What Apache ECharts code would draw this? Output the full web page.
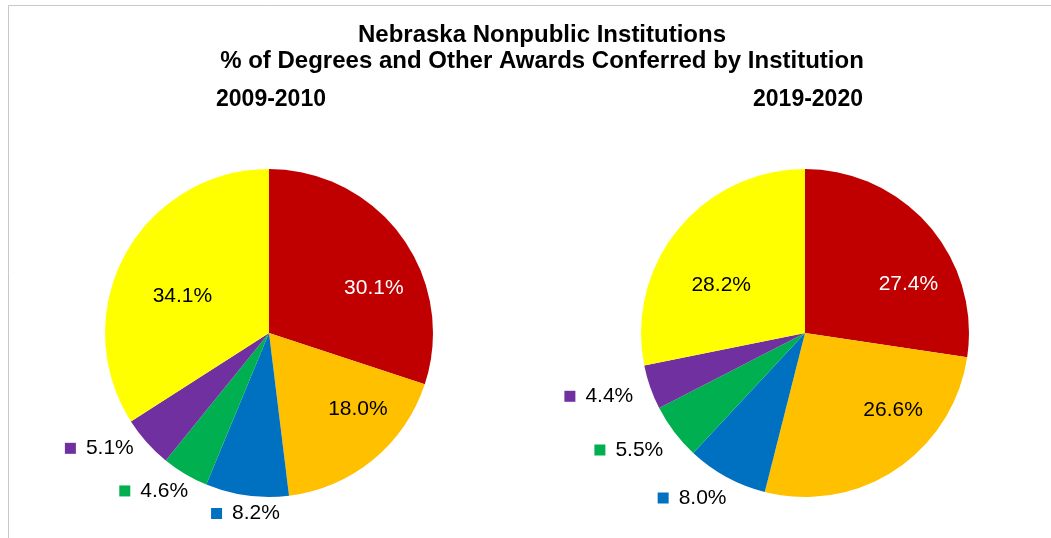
<!DOCTYPE html>
<html>
<head>
<meta charset="utf-8">
<title>Nebraska Nonpublic Institutions</title>
<script src="https://cdn.jsdelivr.net/npm/echarts@6/dist/echarts.min.js"></script>
<style>
    html, body { margin: 0; padding: 0; background: #fff; }
    #chart { width: 1051px; height: 538px; }
</style>
</head>
<body>
<div id="chart"></div>
<script>
// slices go clockwise from 12 o'clock
const slices = ['Institution A', 'Institution B', 'Institution C', 'Institution D', 'Institution E', 'Institution F'];
const sliceColors = ['#C00000', '#FFC000', '#0070C0', '#00B050', '#7030A0', '#FFFF00'];
const years = ['2009-2010', '2019-2020'];
const share2010 = [30.1, 18.0, 8.2, 4.6, 5.1, 34.1];
const share2020 = [27.4, 26.6, 8.0, 5.5, 4.4, 28.2];

// small slices get their label outside, with a colour key
const outsideLabel = [false, false, true, true, true, false];

// label nudges (px) from the default echarts spot to where excel put them
const nudge2010 = [[36, 5], [35, 11], [33, 18], [3, 17], [-13, 6], [-12, 4]];
const nudge2020 = [[39, 7], [41, 6], [0, 21], [-11, 18], [-17, 9], [-18, 6]];

const font = 'Liberation Sans, Arial, sans-serif';

let rich = {
    v: { fontSize: 21, fontFamily: font, color: '#000' },
    w: { fontSize: 21, fontFamily: font, color: '#fff' },
    s: { width: 10 },
};
sliceColors.forEach((c, i) => {
    rich['k' + i] = { width: 11, height: 11, backgroundColor: c };
});

function pieSeries(values, center, nudges) {
    return {
        type: 'pie',
        center: center,
        radius: 164,
        startAngle: 90,
        clockwise: true,
        avoidLabelOverlap: false,
        silent: true,
        itemStyle: { borderWidth: 0 },
        labelLine: { show: false, length: 0, length2: 0 },
        label: {
            distanceToLabelLine: 0,
            rich: rich,
            formatter: (p) => {
                const txt = p.value.toFixed(1) + '%';
                if (outsideLabel[p.dataIndex]) return '{k' + p.dataIndex + '|}{s|}{v|' + txt + '}';
                return p.dataIndex === 0 ? '{w|' + txt + '}' : '{v|' + txt + '}';
            },
        },
        labelLayout: (p) => ({ dx: nudges[p.dataIndex][0], dy: nudges[p.dataIndex][1] }),
        data: values.map((v, i) => ({
            name: slices[i],
            value: v,
            itemStyle: { color: sliceColors[i] },
            label: { position: outsideLabel[i] ? 'outside' : 'inside' },
        })),
    };
}

const headStyle = { fontWeight: 'bold', fontFamily: font, color: '#000', lineHeight: 26 };

let myChart = echarts.init(document.getElementById('chart'), null, { renderer: 'canvas' });
myChart.setOption({
    backgroundColor: '#fff',
    animation: false,
    title: [
        {
            text: 'Nebraska Nonpublic Institutions\n% of Degrees and Other Awards Conferred by Institution',
            left: 537,
            top: 17,
            textAlign: 'center',
            textStyle: Object.assign({ fontSize: 24 }, headStyle),
        },
        {
            text: years[0],
            left: 266,
            top: 82,
            textAlign: 'center',
            textStyle: Object.assign({ fontSize: 23 }, headStyle),
        },
        {
            text: years[1],
            left: 803,
            top: 82,
            textAlign: 'center',
            textStyle: Object.assign({ fontSize: 23 }, headStyle),
        },
    ],
    graphic: [
        {
            type: 'rect',
            silent: true,
            shape: { x: 8.5, y: 5.5, width: 1200, height: 700 },
            style: { fill: 'none', stroke: '#c8c8c8', lineWidth: 1 },
        },
    ],
    series: [
        pieSeries(share2010, [269, 333], nudge2010),
        pieSeries(share2020, [805, 333], nudge2020),
    ],
});
</script>
</body>
</html>
